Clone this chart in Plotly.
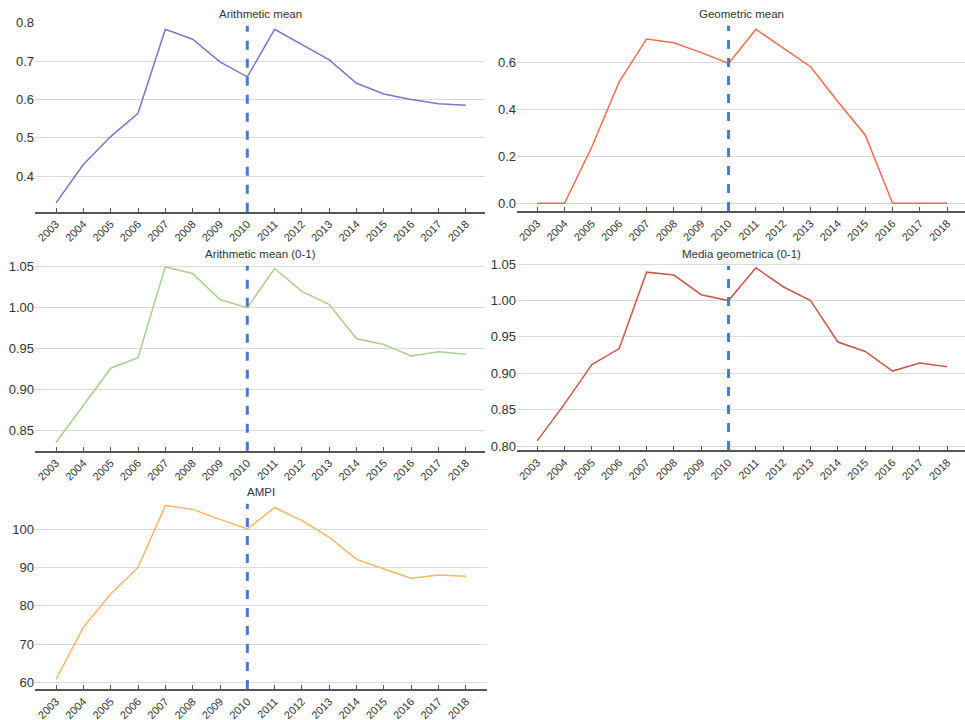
import plotly.graph_objects as go

years = list(range(2003, 2019))
arith_mean = [0.330, 0.430, 0.503, 0.564, 0.783, 0.757, 0.698, 0.659, 0.783, 0.742, 0.703, 0.642, 0.614, 0.600, 0.589, 0.585]
geom_mean = [0.0, 0.0, 0.240, 0.516, 0.698, 0.682, 0.640, 0.594, 0.739, 0.658, 0.580, 0.431, 0.290, 0.0, 0.0, 0.0]
arith_mean01 = [0.835, 0.881, 0.926, 0.939, 1.050, 1.042, 1.010, 1.000, 1.048, 1.020, 1.004, 0.962, 0.955, 0.941, 0.946, 0.943]
media_geom01 = [0.807, 0.858, 0.912, 0.934, 1.039, 1.035, 1.008, 1.000, 1.045, 1.019, 1.000, 0.943, 0.930, 0.903, 0.914, 0.909]
ampi = [60.9, 74.4, 83.1, 90.0, 106.1, 105.1, 102.5, 100.0, 105.6, 102.2, 97.8, 92.1, 89.6, 87.2, 88.0, 87.7]

titles = ["Arithmetic mean", "Geometric mean", "Arithmetic mean (0-1)", "Media geometrica (0-1)", "AMPI"]
series = [arith_mean, geom_mean, arith_mean01, media_geom01, ampi]
colors = ["#7679c6", "#f26c4f", "#a9d18e", "#c55a4a", "#f8b665"]
ref_year = 2010

W, H = 965, 720
# pixel boxes: (left, right, top, bottom)
boxes = [
    (35, 485, 22, 211.7),
    (517, 965, 22, 211),
    (35, 485, 262, 450.7),
    (517, 965, 262, 450),
    (35, 487, 500, 689),
]
yranges = [[0.307, 0.802], [-0.033, 0.770], [0.825, 1.056], [0.7945, 1.053], [58.36, 107.55]]
ytickvals = [[0.4, 0.5, 0.6, 0.7, 0.8], [0.0, 0.2, 0.4, 0.6],
             [0.85, 0.90, 0.95, 1.00, 1.05], [0.80, 0.85, 0.90, 0.95, 1.00, 1.05],
             [60, 70, 80, 90, 100]]
yfmt = [".1f", ".1f", ".2f", ".2f", "d"]
xranges = [[2002.23, 2018.70], [2002.26, 2018.65], [2002.23, 2018.70], [2002.26, 2018.65], [2002.23, 2018.77]]

fig = go.Figure()
annotations = []
shapes = []
font_family = "Liberation Sans, Arial, sans-serif"


def px_x(p):
    return p / W


def px_y(p):
    return 1 - p / H


for i, (t, vals, c, box) in enumerate(zip(titles, series, colors, boxes)):
    n = i + 1
    xa = "x" if n == 1 else f"x{n}"
    ya = "y" if n == 1 else f"y{n}"
    fig.add_trace(go.Scatter(x=years, y=vals, mode="lines", line=dict(color=c, width=1.5),
                             xaxis=xa, yaxis=ya, showlegend=False))
    l, r, tp, b = box
    xd = [px_x(l), min(1.0, px_x(r))]
    yd = [px_y(b), px_y(tp)]
    xkey = "xaxis" if n == 1 else f"xaxis{n}"
    ykey = "yaxis" if n == 1 else f"yaxis{n}"
    fig.layout[xkey] = dict(domain=xd, anchor=ya, range=xranges[i], tickmode="array",
                            tickvals=years, ticktext=[str(y) for y in years], tickangle=-45,
                            showgrid=False, zeroline=False, showline=True, linecolor="#555555",
                            linewidth=1.5, ticks="inside", ticklen=4, tickcolor="#555555",
                            automargin=False,
                            tickfont=dict(size=11, color="#333333", family=font_family))
    fig.layout[ykey] = dict(domain=yd, anchor=xa, range=yranges[i], tickmode="array",
                            tickvals=ytickvals[i], tickformat=yfmt[i], showgrid=True,
                            gridcolor="#dadada", gridwidth=1, zeroline=False, showline=False,
                            ticks="", automargin=False,
                            tickfont=dict(size=13, color="#333333", family=font_family))
    annotations.append(dict(text=t, x=px_x((l + r) / 2 if n % 2 else 741), y=px_y(tp - 8),
                            xref="paper", yref="paper",
                            xanchor="center", yanchor="middle", showarrow=False,
                            font=dict(size=11.5, color="#333333", family=font_family)))
    shapes.append(dict(type="line", xref=xa, yref=f"{ya} domain", x0=ref_year, x1=ref_year,
                       y0=0, y1=0.98, line=dict(color="#4a7bcb", width=3, dash="dash")))

fig.update_layout(width=W, height=H, margin=dict(l=0, r=0, t=0, b=0, autoexpand=False),
                  plot_bgcolor="white", paper_bgcolor="white",
                  annotations=annotations, shapes=shapes, showlegend=False)
fig.write_html("out.html", config={"displayModeBar": False},
               post_script="document.body.style.margin='0';document.body.style.overflow='hidden';")
